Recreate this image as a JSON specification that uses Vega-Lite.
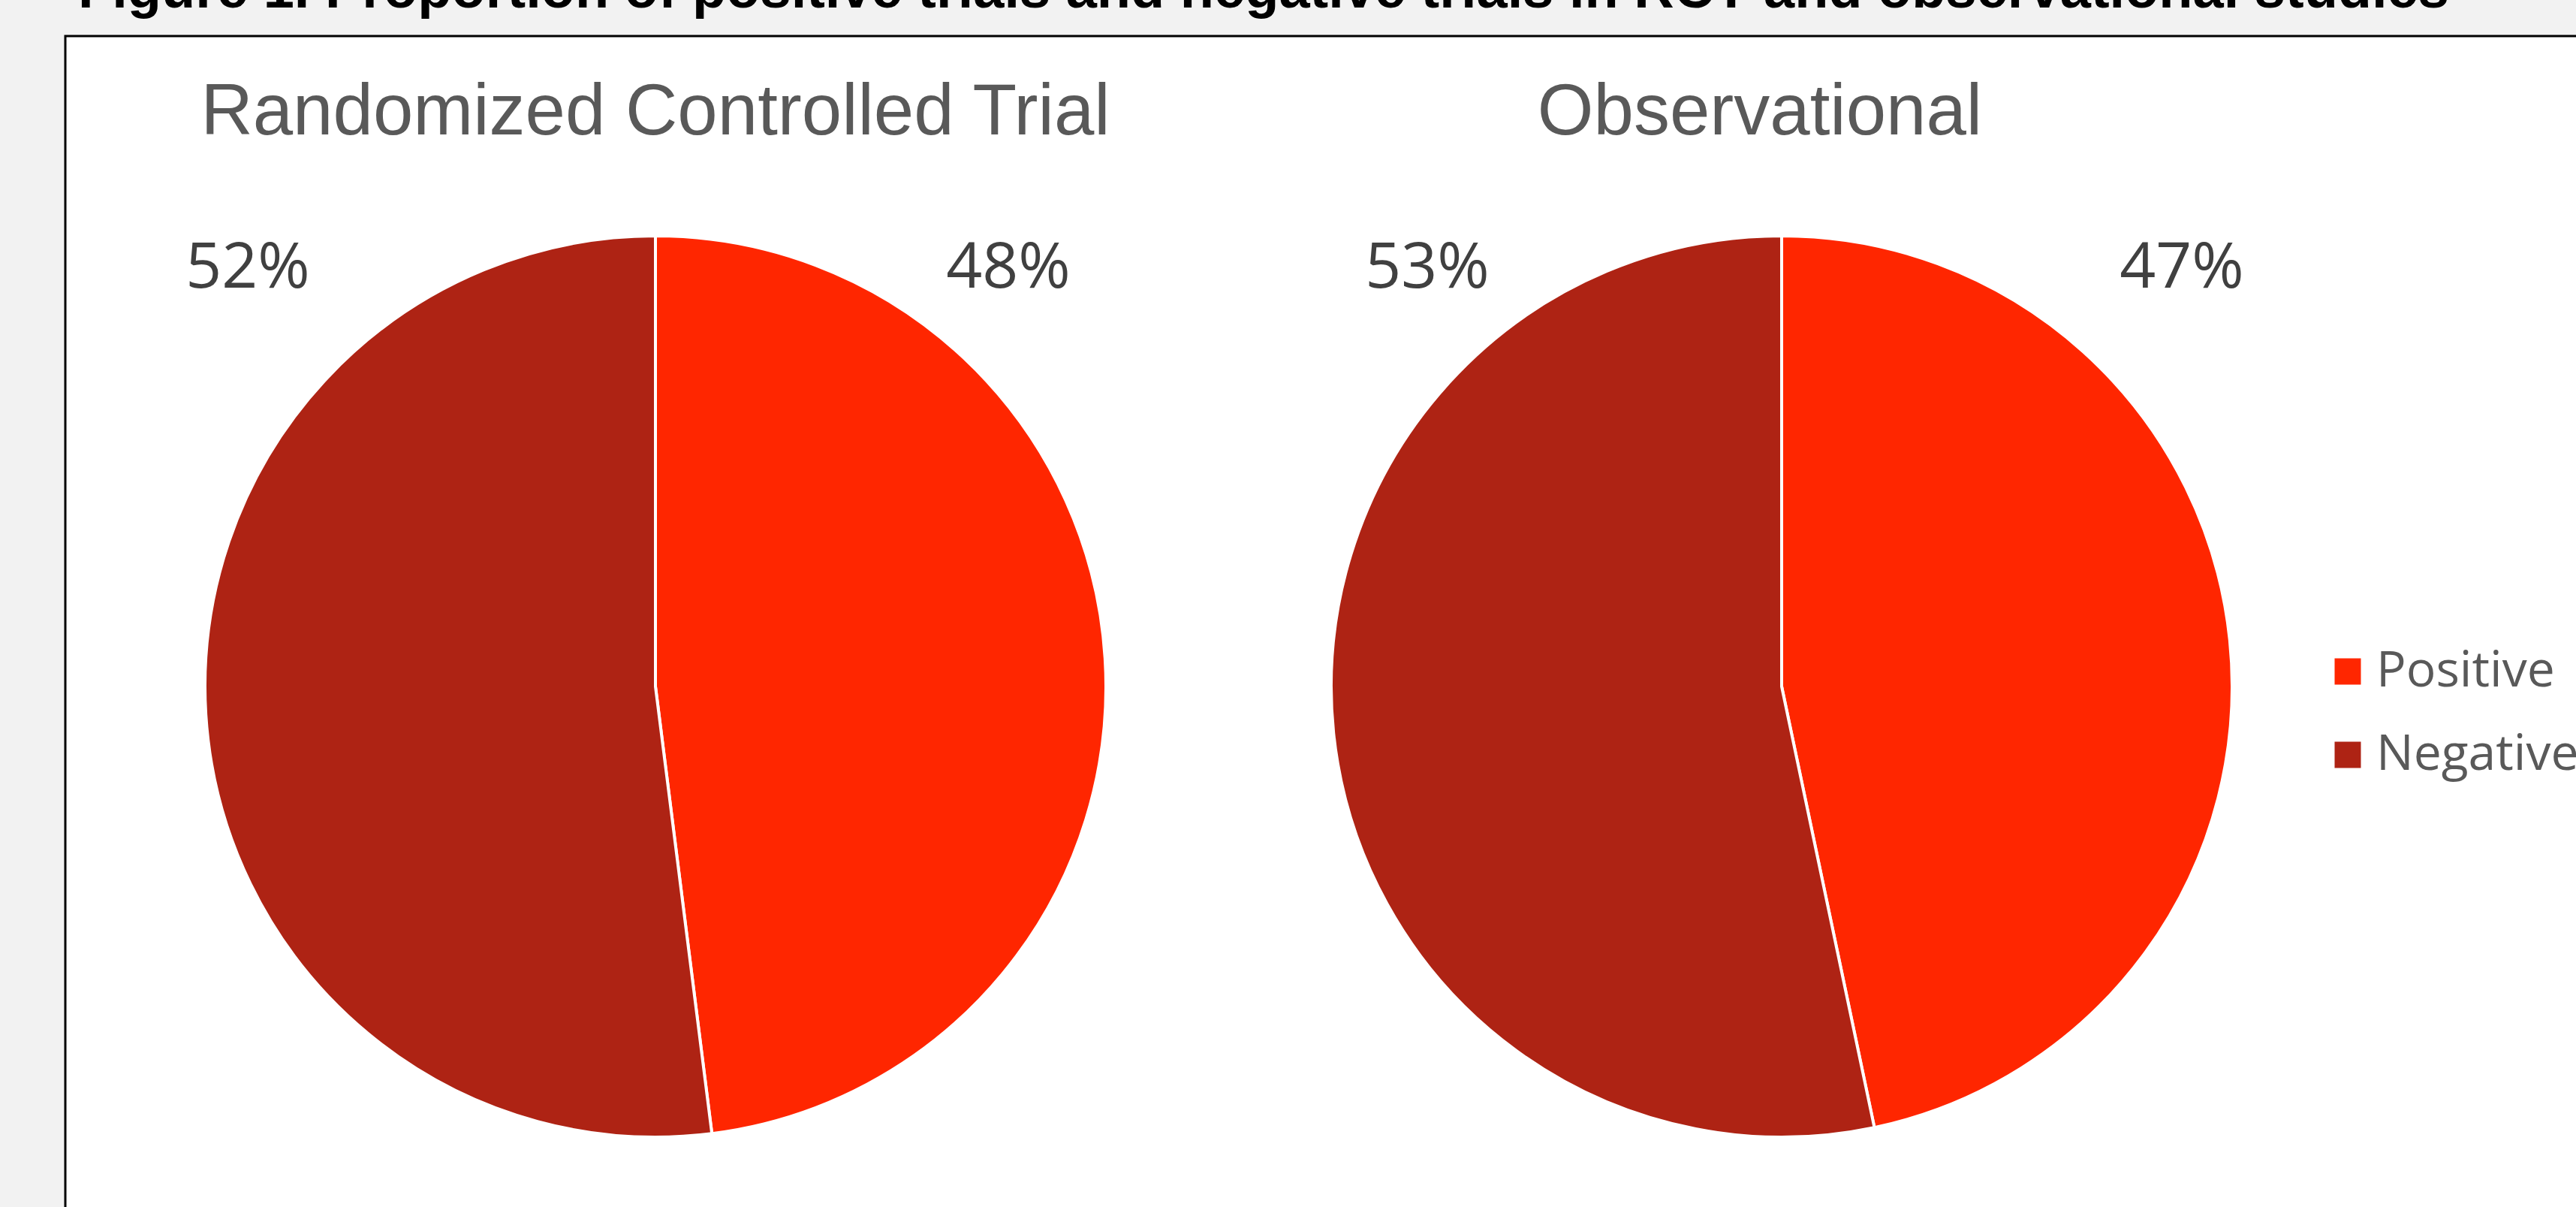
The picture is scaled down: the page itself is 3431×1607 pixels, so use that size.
{
  "$schema": "https://vega.github.io/schema/vega-lite/v6.json",
  "autosize": {"type": "none"},
  "width": 3354,
  "height": 1569,
  "padding": {"left": 87, "top": 48, "right": -10, "bottom": -10},
  "background": "#f2f2f2",
  "title": {
    "text": "Figure 1. Proportion of positive trials and negative trials in RCT and observational studies",
    "anchor": "start",
    "frame": "group",
    "font": "Liberation Sans",
    "fontSize": 74,
    "fontWeight": "bold",
    "color": "#000000",
    "baseline": "alphabetic",
    "offset": 13,
    "dy": 49,
    "dx": 17
  },
  "config": {"view": {"fill": "#ffffff", "stroke": "#000000", "strokeWidth": 3}},
  "data": {
    "values": [
      {"study": "Randomized Controlled Trial", "type": "Positive", "value": 0.48},
      {"study": "Randomized Controlled Trial", "type": "Negative", "value": 0.52},
      {"study": "Observational", "type": "Positive", "value": 0.467},
      {"study": "Observational", "type": "Negative", "value": 0.533}
    ]
  },
  "encoding": {
    "x": {
      "field": "study",
      "type": "nominal",
      "scale": {"type": "point", "domain": ["Randomized Controlled Trial", "Observational"], "range": [786, 2286], "padding": 0},
      "axis": null
    }
  },
  "layer": [
    {
      "transform": [
        {"stack": "value", "groupby": ["study"], "sort": [{"field": "type", "order": "descending"}], "as": ["v0", "v1"]}
      ],
      "mark": {"type": "arc", "outerRadius": 600, "y": 866, "stroke": "#ffffff", "strokeWidth": 4},
      "encoding": {
        "theta": {"field": "v0", "type": "quantitative", "scale": {"domain": [0, 1], "range": [0, 6.283185307179586]}},
        "theta2": {"field": "v1"},
        "color": {
          "field": "type",
          "type": "nominal",
          "scale": {"domain": ["Positive", "Negative"], "range": ["#FF2600", "#AE2314"]},
          "legend": {
            "title": null,
            "orient": "none",
            "legendX": 3007,
            "legendY": 813,
            "symbolType": "square",
            "symbolSize": 1225,
            "symbolStrokeWidth": 0,
            "symbolOpacity": 1,
            "labelFont": "Open Sans",
            "labelFontSize": 66,
            "labelColor": "#595959",
            "labelOffset": 5,
            "labelLimit": 0,
            "rowPadding": 45,
            "padding": 0
          }
        }
      }
    },
    {
      "transform": [{"filter": "datum.type === 'Positive' && datum.study === 'Randomized Controlled Trial'"}],
      "mark": {"type": "text", "y": 131, "baseline": "alphabetic", "align": "center", "font": "Liberation Sans", "fontSize": 96, "color": "#595959"},
      "encoding": {"text": {"field": "study"}}
    },
    {
      "transform": [{"filter": "datum.type === 'Positive' && datum.study === 'Observational'"}],
      "mark": {"type": "text", "y": 131, "dx": -29, "baseline": "alphabetic", "align": "center", "font": "Liberation Sans", "fontSize": 96, "color": "#595959"},
      "encoding": {"text": {"field": "study"}}
    },
    {
      "transform": [{"filter": "datum.study === 'Randomized Controlled Trial' && datum.type === 'Negative'"}],
      "mark": {"type": "text", "y": 335, "dx": -543, "baseline": "alphabetic", "align": "center", "font": "Open Sans", "fontSize": 84, "color": "#404040"},
      "encoding": {"text": {"field": "value", "type": "quantitative", "format": ".0%"}}
    },
    {
      "transform": [{"filter": "datum.study === 'Randomized Controlled Trial' && datum.type === 'Positive'"}],
      "mark": {"type": "text", "y": 335, "dx": 470, "baseline": "alphabetic", "align": "center", "font": "Open Sans", "fontSize": 84, "color": "#404040"},
      "encoding": {"text": {"field": "value", "type": "quantitative", "format": ".0%"}}
    },
    {
      "transform": [{"filter": "datum.study === 'Observational' && datum.type === 'Negative'"}],
      "mark": {"type": "text", "y": 335, "dx": -472, "baseline": "alphabetic", "align": "center", "font": "Open Sans", "fontSize": 84, "color": "#404040"},
      "encoding": {"text": {"field": "value", "type": "quantitative", "format": ".0%"}}
    },
    {
      "transform": [{"filter": "datum.study === 'Observational' && datum.type === 'Positive'"}],
      "mark": {"type": "text", "y": 335, "dx": 533, "baseline": "alphabetic", "align": "center", "font": "Open Sans", "fontSize": 84, "color": "#404040"},
      "encoding": {"text": {"field": "value", "type": "quantitative", "format": ".0%"}}
    }
  ]
}
